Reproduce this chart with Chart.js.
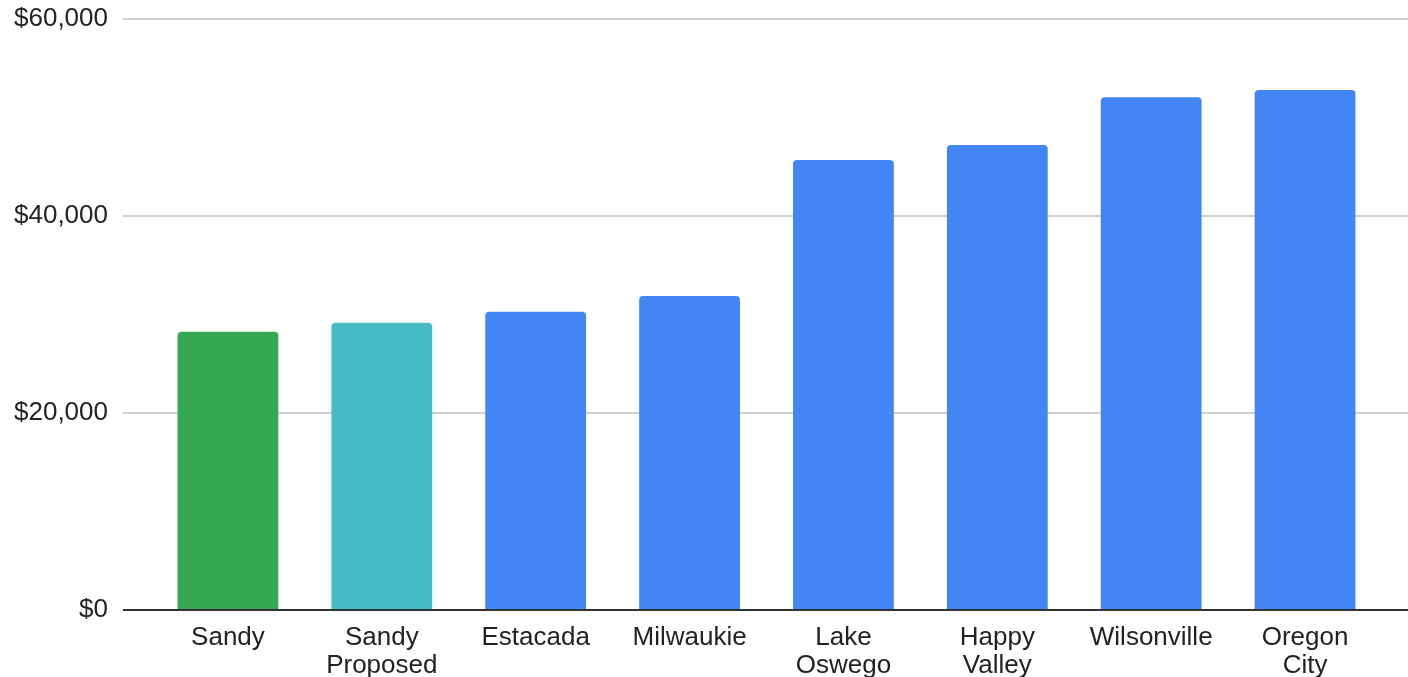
<!DOCTYPE html>
<html>
<head>
<meta charset="utf-8">
<script src="https://cdn.jsdelivr.net/npm/chart.js@4/dist/chart.umd.min.js"></script>
<style>
  html, body { margin: 0; padding: 0; background: #ffffff; }
  #wrap { width: 1408px; height: 677px; position: relative; }
</style>
</head>
<body>
<div id="wrap"><canvas id="c"></canvas></div>
<script>
const categories = ["Sandy", ["Sandy", "Proposed"], "Estacada", "Milwaukie", ["Lake", "Oswego"], ["Happy", "Valley"], "Wilsonville", ["Oregon", "City"]];
const values = [28250, 29170, 30280, 31880, 45690, 47200, 52050, 52790];
const barColors = ["#34a853", "#46bdc6", "#4285f4", "#4285f4", "#4285f4", "#4285f4", "#4285f4", "#4285f4"];
const yTicks = [0, 20000, 40000, 60000];

const font = { family: "'Liberation Sans', Arial, sans-serif", size: 26, lineHeight: 1.08 };
const gridColor = (ctx) => (ctx.tick && ctx.tick.value === 0) ? '#333333' : '#d0d0d0';

new Chart(document.getElementById('c'), {
  type: 'bar',
  data: {
    labels: categories,
    datasets: [{
      data: values,
      backgroundColor: barColors,
      borderRadius: 4,
      borderSkipped: 'start',
      categoryPercentage: 1,
      barPercentage: 0.655
    }]
  },
  options: {
    responsive: true,
    maintainAspectRatio: false,
    animation: false,
    layout: { padding: { top: 19, left: 0, right: 0, bottom: 0 } },
    plugins: { legend: { display: false }, tooltip: { enabled: false } },
    scales: {
      x: {
        z: 1,
        grid: { display: false, drawTicks: false },
        border: { display: true, color: '#333333', width: 2 },
        ticks: { color: '#222222', font: font, padding: 14, maxRotation: 0, autoSkip: false },
        afterFit: (s) => { s.height = 67; s.paddingLeft = 0; s.paddingRight = 0; }
      },
      y: {
        min: 0, max: 60000,
        afterBuildTicks: (s) => { s.ticks = yTicks.map(v => ({ value: v })); },
        grid: { color: gridColor, lineWidth: 2, drawTicks: true, tickLength: 28, tickColor: gridColor },
        border: { display: false },
        ticks: {
          color: '#222222', font: font, padding: 15,
          callback: (v) => '$' + Number(v).toLocaleString('en-US')
        },
        afterFit: (s) => { s.width = 151; s.paddingTop = 0; s.paddingBottom = 0; }
      },
      y2: {
        position: 'right',
        display: true,
        min: 0, max: 60000,
        afterBuildTicks: (s) => { s.ticks = yTicks.map(v => ({ value: v })); },
        grid: { drawOnChartArea: false, color: gridColor, lineWidth: 2, drawTicks: true, tickLength: 26, tickColor: gridColor },
        border: { display: false },
        ticks: { display: false },
        afterFit: (s) => { s.width = 26; s.paddingTop = 0; s.paddingBottom = 0; }
      }
    }
  }
});
</script>
</body>
</html>
